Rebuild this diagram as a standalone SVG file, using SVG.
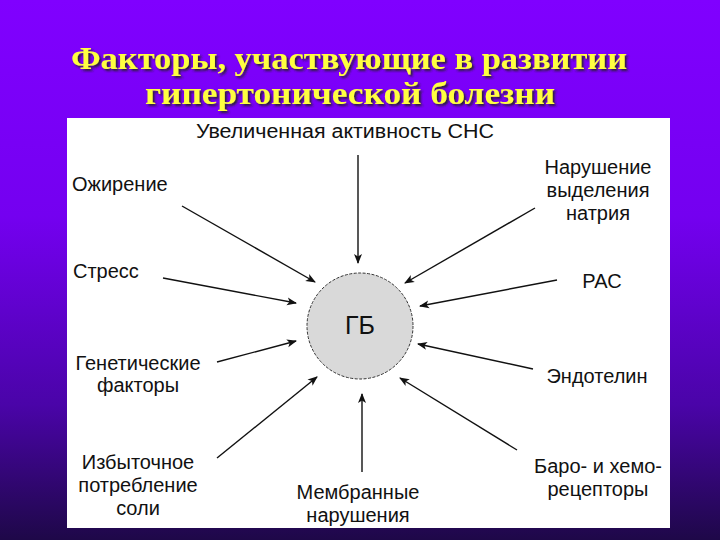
<svg xmlns="http://www.w3.org/2000/svg" width="720" height="540" viewBox="0 0 720 540">
<defs>
<linearGradient id="bg" x1="0" y1="0" x2="0" y2="1">
<stop offset="0" stop-color="#8000ff"/>
<stop offset="0.4" stop-color="#7400f0"/>
<stop offset="0.75" stop-color="#4a04a8"/>
<stop offset="1" stop-color="#1e0848"/>
</linearGradient>
<marker id="ah" viewBox="0 0 10 10" refX="9" refY="5" markerWidth="13" markerHeight="10" markerUnits="userSpaceOnUse" orient="auto">
<path d="M0,1 L10,5 L0,9 L2.5,5 Z" fill="#111"/>
</marker>
<filter id="sh" x="-5%" y="-20%" width="110%" height="140%">
<feDropShadow dx="2" dy="2" stdDeviation="0.8" flood-color="#222" flood-opacity="0.9"/>
</filter>
</defs>
<style>
.t{font-family:"Liberation Serif","DejaVu Serif",serif;font-size:31px;font-weight:bold;fill:#ffff40;text-anchor:middle;}
.l{font-family:"Liberation Sans",Arial,sans-serif;font-size:20px;fill:#111;}
.c{text-anchor:middle;}
.g{font-size:25px;}
.a{stroke:#111;stroke-width:1.4;fill:none;marker-end:url(#ah);}
</style>
<rect width="720" height="540" fill="url(#bg)"/>
<g id="title" filter="url(#sh)">
<text class="t" x="349" y="69" textLength="556" lengthAdjust="spacingAndGlyphs">Факторы, участвующие в развитии</text>
<text class="t" x="350" y="104" textLength="410" lengthAdjust="spacingAndGlyphs">гипертонической болезни</text>
</g>
<rect id="panel" x="67" y="118" width="603" height="410" fill="#ffffff"/>
<g id="connectors">
<line class="a" x1="358" y1="155" x2="358" y2="263"/>
<line class="a" x1="182" y1="206" x2="315" y2="282"/>
<line class="a" x1="163" y1="278" x2="296" y2="303"/>
<line class="a" x1="535" y1="208" x2="405" y2="283"/>
<line class="a" x1="557" y1="280" x2="420" y2="306"/>
<line class="a" x1="217" y1="362" x2="296" y2="341"/>
<line class="a" x1="217" y1="458" x2="317" y2="377"/>
<line class="a" x1="362" y1="472" x2="362" y2="394"/>
<line class="a" x1="533" y1="369" x2="418" y2="344"/>
<line class="a" x1="517" y1="450" x2="400" y2="378"/>
</g>
<g id="gb">
<circle cx="360" cy="326" r="53" fill="#d9d9d9" stroke="#333" stroke-width="1" stroke-dasharray="3 1.5"/>
<text class="l c g" x="360" y="334">ГБ</text>
</g>
<g id="sns"><text class="l" x="196" y="138" textLength="298" lengthAdjust="spacingAndGlyphs">Увеличенная  активность СНС</text></g>
<g id="obesity"><text class="l" x="72" y="191">Ожирение</text></g>
<g id="stress"><text class="l" x="73" y="278">Стресс</text></g>
<g id="sodium">
<text class="l c" x="598" y="174">Нарушение</text>
<text class="l c" x="598" y="197">выделения</text>
<text class="l c" x="598" y="220">натрия</text>
</g>
<g id="ras"><text class="l c" x="602" y="288">РАС</text></g>
<g id="genetic">
<text class="l c" x="138" y="370">Генетические</text>
<text class="l c" x="138" y="392">факторы</text>
</g>
<g id="salt">
<text class="l c" x="138" y="469">Избыточное</text>
<text class="l c" x="138" y="492">потребление</text>
<text class="l c" x="138" y="515">соли</text>
</g>
<g id="membrane">
<text class="l c" x="358" y="499">Мембранные</text>
<text class="l c" x="358" y="522">нарушения</text>
</g>
<g id="endothelin"><text class="l c" x="597" y="383">Эндотелин</text></g>
<g id="baro">
<text class="l c" x="598" y="473">Баро- и хемо-</text>
<text class="l c" x="598" y="496">рецепторы</text>
</g>
</svg>
